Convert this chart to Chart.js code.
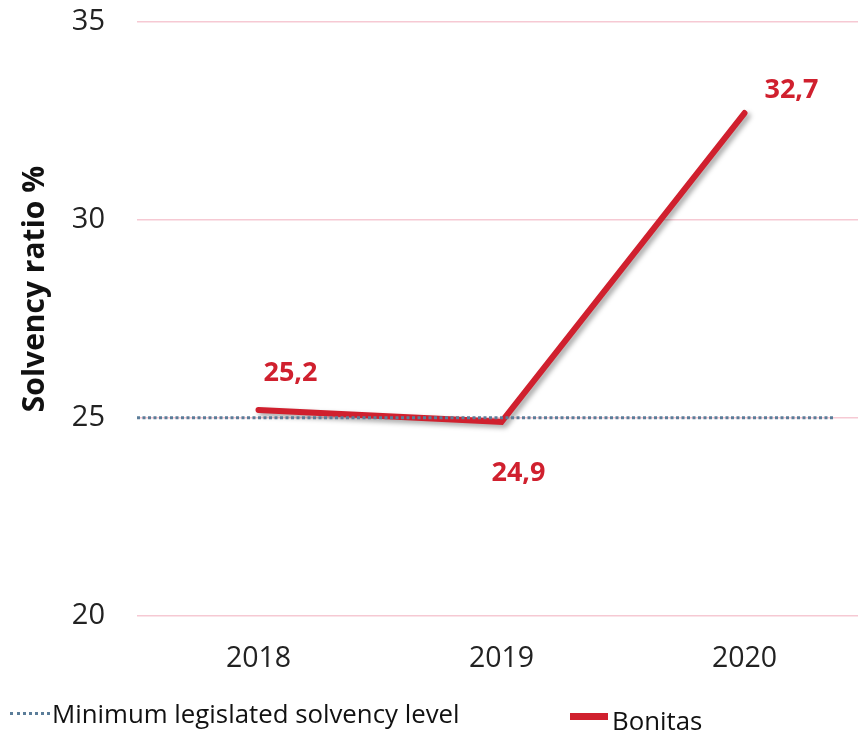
<!DOCTYPE html>
<html>
<head>
<meta charset="utf-8">
<script src="https://cdn.jsdelivr.net/npm/chart.js@4.4.1/dist/chart.umd.min.js"></script>
<style>
  html, body { margin:0; padding:0; background:#fff; overflow:hidden; width:858px; height:731px; }
  #wrap { position:absolute; left:0; top:0; width:866px; height:710px; }
  .leg { position:absolute; font-family:"Liberation Sans Narrow","Open Sans",sans-serif; font-size:25.8px; color:#111; white-space:nowrap; }
  #dotsw { position:absolute; left:10px; top:712px; width:40px; height:0; border-top:3px dotted #5b7d99; }
  #redsw { position:absolute; left:570px; top:713px; width:38px; height:7px; background:#d0202e; }
</style>
</head>
<body>
<div id="wrap"><canvas id="c" width="866" height="710"></canvas></div>
<div id="dotsw"></div>
<div class="leg" id="l1" style="left:52px; top:695px;">Minimum legislated solvency level</div>
<div id="redsw"></div>
<div class="leg" id="l2" style="left:612px; top:702px;">Bonitas</div>
<script>
const categories = ["2018", "2019", "2020"];
const bonitas = [25.2, 24.9, 32.7];
const bonitasLabels = ["25,2", "24,9", "32,7"];
const minimumLevel = 25;
const minLineStart = -0.5;
const minLineEnd = 2.37;
const yTicks = [20, 25, 30, 35];
const seriesNames = ["Minimum legislated solvency level", "Bonitas"];
const axisTitle = "Solvency ratio %";

const labelOffsets = [[32, -37], [17, 51], [47, -23]];

const shadowPlugin = {
  id: 'shadow',
  beforeDatasetDraw(chart, args) {
    if (args.index === 1) {
      const ctx = chart.ctx;
      ctx.save();
      ctx.shadowColor = 'rgba(0,0,0,0.35)';
      ctx.shadowBlur = 5;
      ctx.shadowOffsetX = 3;
      ctx.shadowOffsetY = 3;
    }
  },
  afterDatasetDraw(chart, args) {
    if (args.index === 1) chart.ctx.restore();
  }
};

const labelPlugin = {
  id: 'valueLabels',
  afterDatasetsDraw(chart) {
    const ctx = chart.ctx;
    const meta = chart.getDatasetMeta(1);
    ctx.save();
    ctx.fillStyle = '#d0202e';
    ctx.font = 'bold 27px "Open Sans", sans-serif';
    ctx.textAlign = 'center';
    ctx.textBaseline = 'middle';
    meta.data.forEach((pt, i) => {
      ctx.fillText(bonitasLabels[i], pt.x + labelOffsets[i][0], pt.y + labelOffsets[i][1]);
    });
    ctx.restore();
  }
};

const titlePlugin = {
  id: 'yTitle',
  afterDraw(chart) {
    const ctx = chart.ctx;
    ctx.save();
    ctx.translate(35, 289);
    ctx.rotate(-Math.PI / 2);
    ctx.fillStyle = '#111';
    ctx.font = 'bold 30px "Liberation Sans Narrow", "Open Sans", sans-serif';
    ctx.textAlign = 'center';
    ctx.textBaseline = 'middle';
    ctx.fillText(axisTitle, 0, 0);
    ctx.restore();
  }
};

new Chart(document.getElementById('c'), {
  type: 'line',
  data: {
    labels: categories,
    datasets: [
      {
        label: seriesNames[0],
        data: [{x: minLineStart, y: minimumLevel}, {x: minLineEnd, y: minimumLevel}],
        xAxisID: 'x2',
        borderColor: '#5b7d99',
        borderWidth: 3,
        borderDash: [3, 2.5],
        pointRadius: 0,
        fill: false
      },
      {
        label: seriesNames[1],
        data: bonitas,
        xAxisID: 'x',
        borderColor: '#d0202e',
        borderWidth: 6,
        borderCapStyle: 'round',
        borderJoinStyle: 'miter',
        pointRadius: 0,
        tension: 0,
        fill: false
      }
    ]
  },
  options: {
    responsive: false,
    animation: false,
    layout: { padding: { top: 22, bottom: 8, left: 0, right: 0 } },
    plugins: { legend: { display: false }, tooltip: { enabled: false } },
    scales: {
      x: {
        type: 'category',
        offset: true,
        grid: { display: false, drawTicks: false },
        border: { display: false },
        ticks: { color: '#222', padding: 26, font: { family: '"Open Sans", sans-serif', size: 28.5 } }
      },
      x2: {
        type: 'linear',
        display: false,
        min: -0.5,
        max: 2.5
      },
      y: {
        min: 20,
        max: 35,
        afterFit(scale) { scale.width = 137; scale.paddingTop = 0; scale.paddingBottom = 0; },
        afterBuildTicks(scale) { scale.ticks = yTicks.map(v => ({ value: v })); },
        grid: { color: '#f6c9d3', lineWidth: 1.5, drawTicks: false },
        border: { display: false },
        ticks: { color: '#222', padding: 32, font: { family: '"Open Sans", sans-serif', size: 29 } }
      }
    }
  },
  plugins: [shadowPlugin, labelPlugin, titlePlugin]
});
</script>
</body>
</html>
